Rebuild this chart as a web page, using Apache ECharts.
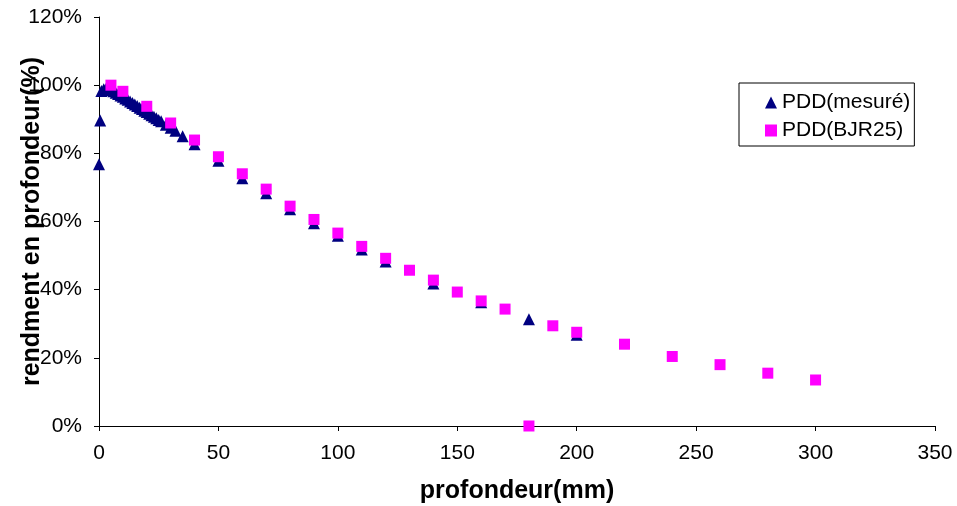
<!DOCTYPE html>
<html>
<head>
<meta charset="utf-8">
<script src="https://cdn.jsdelivr.net/npm/echarts@6/dist/echarts.min.js"></script>
<style>html,body{margin:0;padding:0;background:#fff}#c{width:957px;height:506px}</style>
</head>
<body>
<div id="c"></div>
<script>
// Measured PDD (depth mm, %)
const measDepth = [0,0.5,1,2,3,4,5,6,7,8,9,10,11,12,13,14,15,16,17,18,19,20,21,22,23,24,25,26,28,30,32,35,40,50,60,70,80,90,100,110,120,140,160,180,200];
const measPDD   = [76.8,89.6,98.3,98.8,99.0,98.9,98.6,98.2,97.8,97.4,97.0,96.6,96.1,95.7,95.2,94.8,94.3,93.9,93.4,93.0,92.5,92.1,91.6,91.2,90.7,90.3,89.8,89.4,88.4,87.5,86.6,85.0,82.7,77.8,72.7,68.3,63.6,59.5,55.8,51.8,48.3,41.8,36.3,31.3,26.8];
// BJR25 PDD
const bjrDepth = [5,10,20,30,40,50,60,70,80,90,100,110,120,130,140,150,160,170,180,190,200,220,240,260,280,300];
const bjrPDD   = [100,98.2,93.8,88.9,83.9,79.0,74.0,69.5,64.5,60.6,56.6,52.7,49.2,45.7,42.8,39.3,36.7,34.3,0,29.4,27.5,24.0,20.4,18.0,15.5,13.5];
const seriesNames = ['PDD(mesuré)','PDD(BJR25)'];
const xTitle = 'profondeur(mm)';
const yTitle = 'rendment en profondeur(%)';

const font = 'Liberation Sans, Arial, sans-serif';
const chart = echarts.init(document.getElementById('c'));
chart.setOption({
  animation:false,
  backgroundColor:'#fff',
  grid:{left:99,right:22,top:17,bottom:80,containLabel:false,outerBoundsMode:'none'},
  legend:{
    orient:'vertical', left:739, top:83,
    padding:[9,4,5,26], itemGap:7, itemWidth:12, itemHeight:12,
    borderColor:'#000', borderWidth:1,
    textStyle:{fontFamily:font,fontSize:21,color:'#000'},
    data:[{name:seriesNames[0],icon:'triangle'},{name:seriesNames[1],icon:'rect'}]
  },
  xAxis:{
    type:'value', min:0, max:350, interval:50,
    name:xTitle, nameLocation:'middle', nameGap:53, nameMoveOverlap:false,
    nameTextStyle:{fontFamily:font,fontSize:25,fontWeight:'bold',color:'#000'},
    axisLine:{lineStyle:{color:'#000',width:1}},
    axisTick:{show:true,length:5,lineStyle:{color:'#000'}},
    axisLabel:{fontFamily:font,fontSize:21,color:'#000',margin:17},
    splitLine:{show:false}
  },
  yAxis:{
    type:'value', min:0, max:120, interval:20,
    name:yTitle, nameLocation:'middle', nameGap:54, nameRotate:90, nameMoveOverlap:false,
    nameTextStyle:{fontFamily:font,fontSize:25,fontWeight:'bold',color:'#000'},
    axisLine:{show:true,lineStyle:{color:'#000',width:1}},
    axisTick:{show:true,length:5,lineStyle:{color:'#000'}},
    axisLabel:{fontFamily:font,fontSize:21,color:'#000',margin:17,formatter:'{value}%'},
    splitLine:{show:false}
  },
  series:[
    {name:seriesNames[0],type:'scatter',symbol:'triangle',symbolSize:12,clip:false,
     itemStyle:{color:'#000080',opacity:1},
     data:measDepth.map((d,i)=>[d,measPDD[i]])},
    {name:seriesNames[1],type:'scatter',symbol:'rect',symbolSize:11,clip:false,
     itemStyle:{color:'#FF00FF',opacity:1},
     data:bjrDepth.map((d,i)=>[d,bjrPDD[i]])}
  ]
});
</script>
</body>
</html>
